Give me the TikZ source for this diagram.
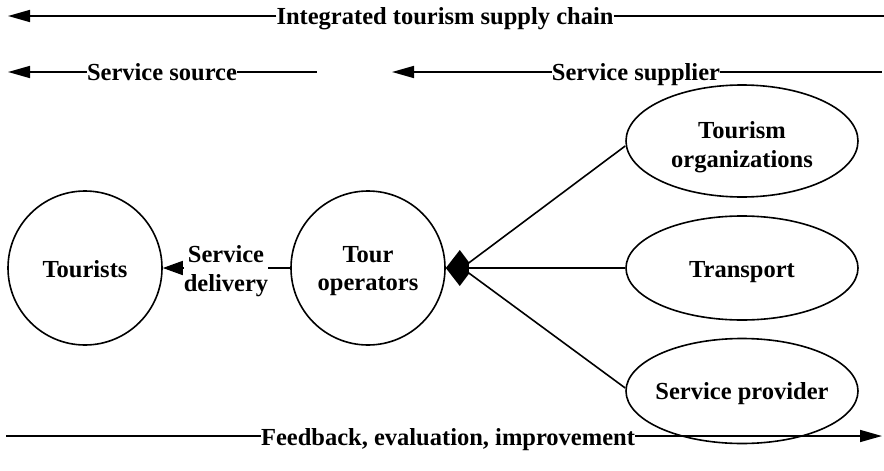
\documentclass[tikz,border=0pt]{standalone}
\usepackage{fontspec}
\setmainfont{Liberation Serif}
\usetikzlibrary{shapes.geometric,arrows.meta}
\begin{document}
\begin{tikzpicture}[x=1pt,y=-1pt,
  every node/.style={font=\fontsize{24.5}{28.5}\selectfont\bfseries},
  ln/.style={line width=1.6pt},
  circ/.style={draw,circle,line width=1.6pt,minimum size=154pt,inner sep=0pt},
  ell/.style={draw,ellipse,line width=1.6pt,minimum width=232pt,inner sep=0pt},
  lbl/.style={inner sep=0pt},
  txt/.style={align=center,inner sep=0pt},
  bigtip/.style={-{Triangle[length=22pt,width=12pt]}},
]
\useasboundingbox (0,0) rectangle (884,471);

% top row
\node[lbl,anchor=base] (chain) at (445,24) {Integrated tourism supply chain};
\coordinate (chainL) at (8,16);
\coordinate (chainR) at (884,16);
\draw[ln,bigtip] (chain.west |- chainL) -- (chainL);
\draw[ln] (chain.east |- chainR) -- (chainR);

% second row
\node[lbl,anchor=base] (src) at (162,80) {Service source};
\coordinate (srcL) at (8,72);
\coordinate (srcR) at (317,72);
\draw[ln,bigtip] (src.west |- srcL) -- (srcL);
\draw[ln] (src.east |- srcR) -- (srcR);

\node[lbl,anchor=base] (sup) at (636,80) {Service supplier};
\coordinate (supL) at (392,72);
\coordinate (supR) at (882,72);
\draw[ln,bigtip] (sup.west |- supL) -- (supL);
\draw[ln] (sup.east |- supR) -- (supR);

% bottom row
\node[lbl,anchor=base] (fb) at (448,445) {Feedback, evaluation, improvement};
\coordinate (fbL) at (6,436);
\coordinate (fbR) at (882,436);
\draw[ln] (fbL) -- (fb.west |- fbL);
\draw[ln,bigtip] (fb.east |- fbR) -- (fbR);

% circles
\node[circ,label={[txt,yshift=-1pt]center:Tourists}] (tour) at (85,268) {};
\node[circ,label={[txt,yshift=-3pt]center:{Tour\\operators}}] (op) at (368,268) {};
\node[txt] (sd) at (226,271) {Service\\delivery};
\draw[ln] (op.west) -- (sd.east |- op.west);
\draw[ln,-{Triangle[length=20pt,width=14pt]}] (sd.west |- tour.east) -- (tour.east);

% ellipses
\node[ell,minimum height=112pt,label={[txt,yshift=-6pt]center:{Tourism\\organizations}}] (org) at (742,141) {};
\node[ell,minimum height=104pt,label={[txt,yshift=-4pt]center:Transport}] (trans) at (742,268) {};
\node[ell,minimum height=105pt,label={[txt,yshift=-3pt]center:Service provider}] (prov) at (742,391) {};

\coordinate (hub) at (462,268);
\draw[ln] ([yshift=-5pt]org.west) -- (hub);
\draw[ln] (trans.west) -- (hub);
\draw[ln] ([yshift=3pt]prov.west) -- (hub);
\fill (op.east) -- ++(14,-18) -- ++(9,12) -- ++(0,12) -- ++(-9,12) -- cycle;
\end{tikzpicture}
\end{document}
